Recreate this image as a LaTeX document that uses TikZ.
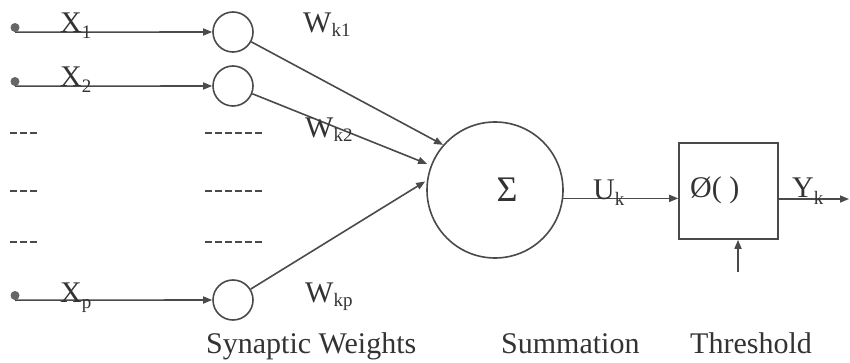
\documentclass[tikz,border=0pt]{standalone}
\usepackage{fontspec}
\setmainfont{Liberation Serif}
\usetikzlibrary{arrows.meta}
\definecolor{ln}{HTML}{4A4A4A}
\definecolor{tx}{HTML}{333333}
\definecolor{dt}{HTML}{666666}
\newcommand{\lowsub}[1]{\raisebox{-6pt}{\fontsize{19}{19}\selectfont #1}}
\newcommand{\wsub}[1]{\raisebox{-4pt}{\fontsize{19}{19}\selectfont #1}}
\begin{document}
\begin{tikzpicture}[x=1pt,y=-1pt,
  lbl/.style={text=tx,font=\fontsize{30}{36}\selectfont,inner sep=0pt},
  syn/.style={circle,draw=ln,line width=1.6pt,minimum size=40pt,inner sep=0pt},
  wire/.style={draw=ln,line width=1.6pt},
  arr/.style={wire,-{Triangle[length=9pt,width=7pt]}},
  dotnode/.style={circle,fill=dt,minimum size=9pt,inner sep=0pt},
  dashrow/.style={draw=ln,line width=2pt,dash pattern=on 7pt off 3pt}]
\useasboundingbox (0,0) rectangle (850,363);

% inputs
\node[dotnode] (d1) at (15,27.5) {};
\node[dotnode] (d2) at (15,81.5) {};
\node[dotnode] (dp) at (15,295.5) {};
\node[syn] (c1) at (233,32) {};
\node[syn] (c2) at (233,86) {};
\node[syn] (cp) at (233,300) {};
\draw[arr] (d1.south) -- (c1.west);
\draw[arr] (d2.south) -- (c2.west);
\draw[arr] (dp.south) -- (cp.west);
\node[lbl,anchor=base west] (x1) at (60,33) {X\lowsub{1}};
\node[lbl,anchor=base west] (x2) at (60,87) {X\lowsub{2}};
\node[lbl,anchor=base west] (xp) at (60,302) {X\lowsub{p}};

% ellipsis dashes
\foreach \yy in {133,191,242}{
  \draw[dashrow] (10,\yy) -- (38,\yy);
  \draw[dashrow] (205,\yy) -- (265,\yy);
}

% summation
\node[syn,minimum size=136pt] (sum) at (495,190) {};
\node[lbl,font=\fontsize{36}{40}\selectfont] (sig) at (507,190) {Σ};

% weighted connections
\draw[arr] (c1) -- (sum.139);
\draw[arr,shorten >=4pt] (c2) -- (sum.159);
\draw[arr,shorten >=2pt] (cp) -- (sum.172);
\node[lbl,anchor=base west] (w1) at (303,33) {W\wsub{k1}};
\node[lbl,anchor=base west] (w2) at (305,138) {W\wsub{k2}};
\node[lbl,anchor=base west] (wp) at (305,302) {W\wsub{kp}};

% threshold
\node[draw=ln,line width=1.6pt,minimum width=99pt,minimum height=96pt,inner sep=0pt] (thr) at (728.5,191) {};
\node[lbl,anchor=base west] (phi) at (690,198) {Ø( )};
\draw[arr] (sum.-7.6) -- (sum.-7.6 -| thr.west);
\node[lbl,anchor=base west] (uk) at (593,200) {U\lowsub{k}};
\coordinate (yend) at (849,199);
\draw[arr] (thr.east |- yend) -- (yend);
\node[lbl,anchor=base west] (yk) at (792,198) {Y\lowsub{k}};
\coordinate (tin) at (738,272);
\draw[arr] (tin) -- (tin |- thr.south);

% captions
\node[lbl,anchor=base west] (cap1) at (206,353) {Synaptic Weights};
\node[lbl,anchor=base west] (cap2) at (501,353) {Summation};
\node[lbl,anchor=base west] (cap3) at (690,353) {Threshold};
\end{tikzpicture}
\end{document}
